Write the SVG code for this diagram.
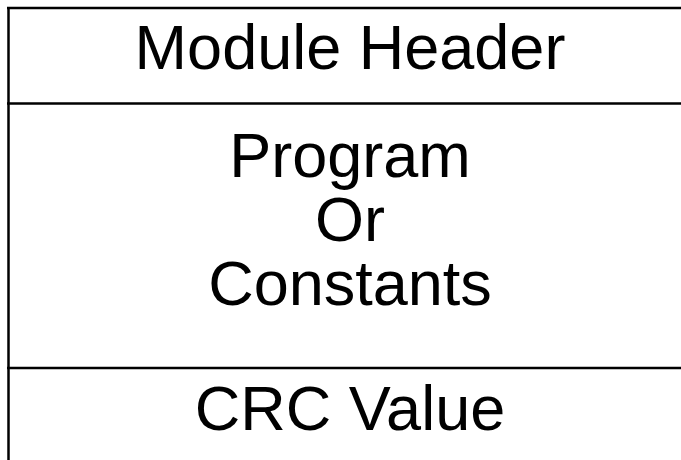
<svg xmlns="http://www.w3.org/2000/svg" width="681" height="460" viewBox="0 0 681 460">
<style>
.t{font-family:"Liberation Sans",Arial,sans-serif;font-size:63px;fill:#000;text-anchor:middle}
.b{stroke:#000;stroke-width:2.5;fill:none}
</style>
<rect width="681" height="460" fill="#fff"/>
<g id="frame">
<line class="b" x1="8.5" y1="8" x2="8.5" y2="460"/>
<line class="b" x1="7" y1="8" x2="681" y2="8"/>
<line class="b" x1="7" y1="103.5" x2="681" y2="103.5"/>
<line class="b" x1="7" y1="368" x2="681" y2="368"/>
</g>
<g id="header"><text class="t" x="350" y="69">Module Header</text></g>
<g id="program"><text class="t" x="350" y="177">Program</text><text class="t" x="350" y="241">Or</text><text class="t" x="350" y="305">Constants</text></g>
<g id="crc"><text class="t" x="350" y="430">CRC Value</text></g>
<g id="connectors"/>
</svg>
